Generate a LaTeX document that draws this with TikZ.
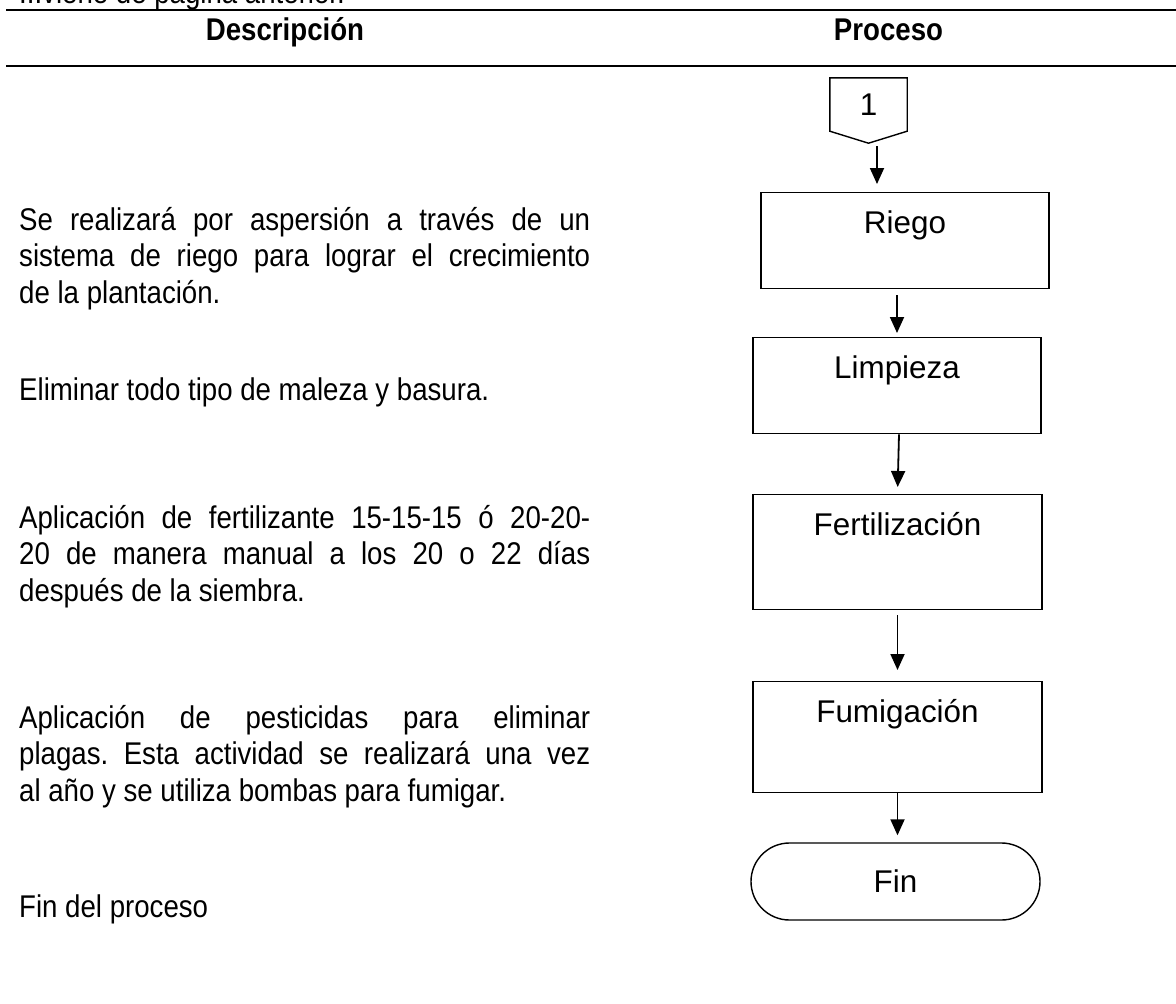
\documentclass[tikz,border=0pt]{standalone}
\usepackage{fontspec}
\setmainfont{Liberation Sans}
\newfontfamily\cuerpo{Liberation Sans}[FakeStretch=0.88]
\usetikzlibrary{arrows.meta}
\tolerance=10000
\frenchspacing

\tikzset{
  paso/.style={draw,line width=1.4pt,minimum width=288pt,inner sep=0pt,text height=41pt,anchor=north},
  flecha/.style={line width=1.8pt,-{Triangle[width=14pt,length=16pt]}},
  texto/.style={anchor=base west,inner sep=0pt,font=\cuerpo\fontsize{31.4}{36.5}\selectfont},
  descr/.style={texto,text width=571pt,align=justify},
  titulo/.style={anchor=base,inner sep=0pt,font=\cuerpo\bfseries\fontsize{31.4}{36.5}\selectfont},
  regla/.style={line width=2.2pt},
}

\begin{document}
\begin{tikzpicture}[x=1pt,y=-1pt,font=\fontsize{31.4}{36.5}\selectfont]
\useasboundingbox (0,0) rectangle (1176,1004);

% encabezado de la tabla
\node[texto] (viene) at (19,3) {...viene de página anterior.};
\draw[regla] (6,10) -- (1176,10);
\node[titulo] (tdesc) at (285,40.5) {Descripción};
\node[titulo] (tproc) at (888.5,40) {Proceso};
\draw[regla] (6,66) -- (1176,66);

% conector de pagina
\node[inner sep=0pt,minimum width=77pt,minimum height=53pt] (con) at (868.5,104.5) {1};
\draw[line width=1.4pt] (con.north west) -- (con.north east) -- (con.south east)
  -- ([yshift=-12pt]con.south) -- (con.south west) -- cycle;

% pasos del proceso
\node[paso,text depth=55pt] (riego) at (905,192) {Riego};
\node[paso,text depth=55pt] (limpieza) at (897,337) {Limpieza};
\node[paso,text depth=74pt,minimum width=289pt] (fert) at (897.5,494) {Fertilización};
\node[paso,text depth=70pt,minimum width=289pt] (fum) at (897.5,681) {Fumigación};
\node[draw,line width=1.4pt,rounded corners=38.5pt,minimum width=289pt,minimum height=77pt,inner sep=0pt] (fin) at (895.5,881.5) {Fin};

% descripciones
\node[descr] (d1) at (19,230) {Se realizará por aspersión a través de un\linebreak sistema de riego para lograr el crecimiento\linebreak de la plantación.};
\node[descr] (d2) at (19,400) {Eliminar todo tipo de maleza y basura.};
\node[descr] (d3) at (19,528) {Aplicación de fertilizante 15-15-15 ó 20-20-\linebreak 20 de manera manual a los 20 o 22 días\linebreak después de la siembra.};
\node[descr] (d4) at (19,728) {Aplicación de pesticidas para eliminar\linebreak plagas. Esta actividad se realizará una vez\linebreak al año y se utiliza bombas para fumigar.};
\node[descr] (d5) at (19,917) {Fin del proceso};

% flechas
\draw[flecha,shorten <=15pt,shorten >=8pt] ([xshift=8.5pt]con.south) -- ([xshift=8.5pt]con.south |- riego.north);
\draw[flecha,shorten <=6pt,shorten >=4pt] (riego.south -| limpieza.north) -- (limpieza.north);
\draw[flecha,shorten >=7pt] ([xshift=2pt]limpieza.south) -- (fert.north);
\draw[flecha,shorten <=5pt,shorten >=11pt] (fert.south) -- (fum.north);
\draw[flecha,shorten >=7pt] (fum.south) -- (fum.south |- fin.north);
\end{tikzpicture}
\end{document}
